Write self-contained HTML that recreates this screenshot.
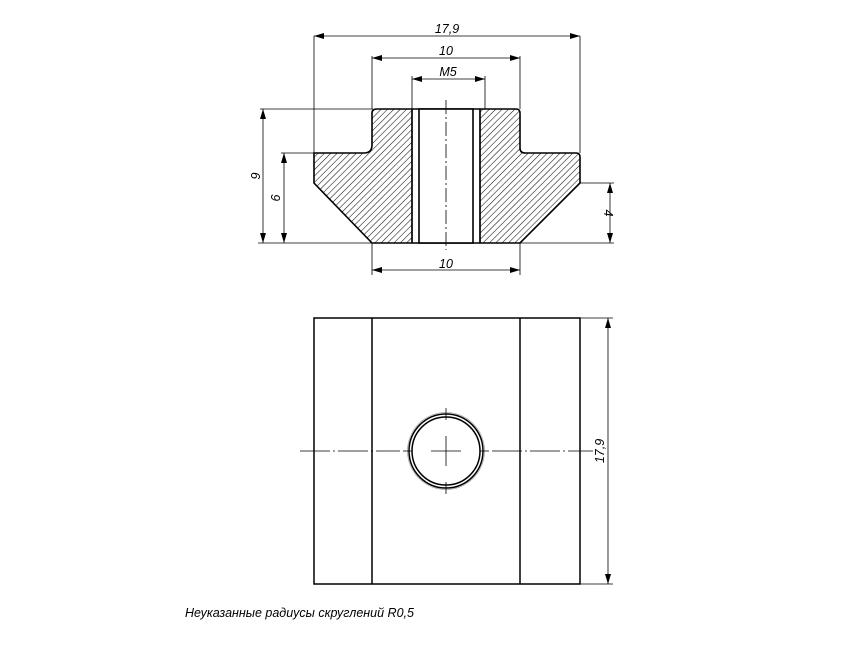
<!DOCTYPE html>
<html><head><style>body{margin:0;background:#fff}svg{display:block}</style></head><body>
<svg width="866" height="650" viewBox="0 0 866 650" xmlns="http://www.w3.org/2000/svg" font-family="Liberation Sans, DejaVu Sans, sans-serif" font-style="italic">
<defs>
<pattern id="h" patternUnits="userSpaceOnUse" width="4.5" height="4.5" patternTransform="rotate(45)">
<line x1="0" y1="0" x2="0" y2="4.5" stroke="#111" stroke-width="1.1"/>
</pattern>
<marker id="a" viewBox="0 0 10 6" refX="10" refY="3" markerWidth="10" markerHeight="6" orient="auto-start-reverse" markerUnits="userSpaceOnUse"><path d="M0,0L10,3L0,6z" fill="#000"/></marker>
</defs>
<g stroke="#000" fill="none">
<path d="M377,109 H516 Q520,109 520,113 V148 Q520,153 525,153 H576 Q580,153 580,157 V183 L520,243 H372 L314,183 V153 H364 Q372,153 372,145 V113 Q372,109 377,109 Z M412,109 V243 H480 V109 Z" fill="url(#h)" stroke-width="1.6" fill-rule="evenodd"/>
<rect x="419" y="109" width="54" height="134" fill="#fff" stroke-width="1.6"/>
<line x1="412" y1="109" x2="412" y2="243" stroke-width="1.2"/>
<line x1="480" y1="109" x2="480" y2="243" stroke-width="1.2"/>
<line x1="446" y1="100" x2="446" y2="250" stroke-width="0.8" stroke-dasharray="14,3,2,3"/>
<g stroke-width="0.8">
<line x1="314" y1="36" x2="314" y2="153"/><line x1="580" y1="36" x2="580" y2="153"/>
<line x1="372" y1="56" x2="372" y2="109"/><line x1="520" y1="56" x2="520" y2="109"/>
<line x1="412" y1="76" x2="412" y2="109"/><line x1="485" y1="76" x2="485" y2="109"/>
<line x1="260" y1="109" x2="373" y2="109"/><line x1="281" y1="153" x2="314" y2="153"/>
<line x1="258" y1="243" x2="372" y2="243"/><line x1="520" y1="243" x2="614" y2="243"/>
<line x1="580" y1="183" x2="614" y2="183"/>
<line x1="372" y1="243" x2="372" y2="275"/><line x1="520" y1="243" x2="520" y2="275"/>
<line x1="314" y1="36" x2="580" y2="36" marker-start="url(#a)" marker-end="url(#a)"/>
<line x1="372" y1="58" x2="520" y2="58" marker-start="url(#a)" marker-end="url(#a)"/>
<line x1="412" y1="79" x2="485" y2="79" marker-start="url(#a)" marker-end="url(#a)"/>
<line x1="263" y1="109" x2="263" y2="243" marker-start="url(#a)" marker-end="url(#a)"/>
<line x1="284" y1="153" x2="284" y2="243" marker-start="url(#a)" marker-end="url(#a)"/>
<line x1="610" y1="183" x2="610" y2="243" marker-start="url(#a)" marker-end="url(#a)"/>
<line x1="372" y1="270" x2="520" y2="270" marker-start="url(#a)" marker-end="url(#a)"/>
</g>
<rect x="314" y="318" width="266" height="266" stroke-width="1.5"/>
<line x1="372" y1="318" x2="372" y2="584" stroke-width="1.5"/>
<line x1="520" y1="318" x2="520" y2="584" stroke-width="1.5"/>
<circle cx="446" cy="451" r="37" stroke-width="1.5"/>
<circle cx="446" cy="451" r="34" stroke-width="1.5"/>
<circle cx="446" cy="451" r="38.5" stroke-width="0.6" stroke="#888"/>
<g stroke-width="0.8">
<line x1="300" y1="451" x2="400" y2="451" stroke-dasharray="30,3,2,3"/>
<line x1="431" y1="451" x2="461" y2="451"/>
<line x1="446" y1="436" x2="446" y2="466"/>
<line x1="492" y1="451" x2="593" y2="451" stroke-dasharray="30,3,2,3"/>
<line x1="446" y1="408" x2="446" y2="420"/><line x1="446" y1="482" x2="446" y2="494"/>
<line x1="403" y1="451" x2="412" y2="451"/><line x1="480" y1="451" x2="489" y2="451"/>
<line x1="580" y1="318" x2="613" y2="318"/><line x1="580" y1="584" x2="613" y2="584"/>
<line x1="608" y1="318" x2="608" y2="584" marker-start="url(#a)" marker-end="url(#a)"/>
</g>
</g>
<g font-size="12.5" fill="#000" text-anchor="middle">
<text x="447" y="33">17,9</text>
<text x="446" y="55">10</text>
<text x="448" y="76">M5</text>
<text x="446" y="268">10</text>
<text transform="translate(260,176) rotate(-90)">9</text>
<text transform="translate(280,198) rotate(-90)">6</text>
<text transform="translate(604,213) rotate(90)">4</text>
<text transform="translate(604,451) rotate(-90)">17,9</text>
<text x="185" y="617" text-anchor="start">Неуказанные радиусы скруглений R0,5</text>
</g>
</svg>
</body></html>
